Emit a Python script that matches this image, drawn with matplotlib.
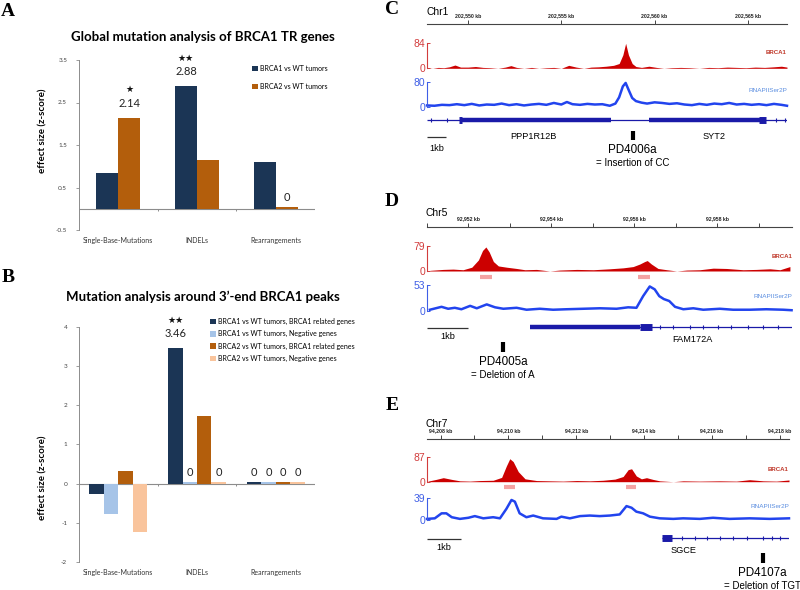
import numpy as np
import matplotlib.pyplot as plt

plt.rcParams['font.family'] = ['Liberation Sans', 'DejaVu Sans']

W, H = 800, 590

# ---- bar chart data (A, B) ----
categories = ['Single-Base-Mutations', 'INDELs', 'Rearrangements']

a_names = ['BRCA1 vs WT tumors', 'BRCA2 vs WT tumors']
a_brca1 = [0.85, 2.88, 1.10]
a_brca2 = [2.14, 1.15, 0.05]
a_ticks = [-0.5, 0.5, 1.5, 2.5, 3.5]
# (series, category, label, stars)
a_notes = [(1, 0, '2.14', '★'), (0, 1, '2.88', '★★'), (1, 2, '0', '')]

b_names = ['BRCA1 vs WT tumors, BRCA1 related genes', 'BRCA1 vs WT tumors, Negative genes',
           'BRCA2 vs WT tumors, BRCA1 related genes', 'BRCA2 vs WT tumors, Negative genes']
b_brca1_rel = [-0.28, 3.46, 0.05]
b_brca1_neg = [-0.79, 0.05, 0.05]
b_brca2_rel = [0.31, 1.74, 0.05]
b_brca2_neg = [-1.23, 0.05, 0.05]
b_ticks = [-2, -1, 0, 1, 2, 3, 4]
b_notes = [(0, 1, '3.46', '★★'), (1, 1, '0', ''), (3, 1, '0', ''),
           (0, 2, '0', ''), (1, 2, '0', ''), (2, 2, '0', ''), (3, 2, '0', '')]

navy, lblue, orange, peach = '#1b3555', '#a6c4e8', '#b35e0c', '#f9c49c'

# ---- locus C (chr1) ----
c_lo, c_hi = 202547.8, 202567.1
c_ticks = [202550, 202555, 202560, 202565]
c_tick_labels = ['202,550 kb', '202,555 kb', '202,560 kb', '202,565 kb']
c_brca_pos = [202547.8, 202548.1, 202548.4, 202548.7, 202549.0, 202549.3, 202549.6, 202550.0,
              202550.4, 202550.8, 202551.2, 202551.6, 202552.0, 202552.3, 202552.6, 202553.0,
              202553.4, 202553.8, 202554.2, 202554.6, 202555.0, 202555.4, 202555.8, 202556.2,
              202556.6, 202557.0, 202557.4, 202557.8, 202558.1, 202558.3, 202558.45, 202558.6,
              202558.8, 202559.0, 202559.3, 202559.7, 202560.1, 202560.5, 202560.9, 202561.4,
              202561.9, 202562.4, 202562.9, 202563.4, 202563.9, 202564.4, 202564.9, 202565.4,
              202565.9, 202566.4, 202566.8, 202567.1]
c_brca_val = [2, 0, 3, 2, 5, 11, 4, 4, 6, 3, 2, 0, 4, 9, 3, 0, 3, 0, 2, 3, 0, 10, 4, 0,
              4, 5, 7, 10, 16, 45, 84, 45, 16, 6, 3, 7, 3, 0, 2, 3, 2, 0, 3, 2, 4, 3, 2, 4,
              3, 5, 7, 4]
c_rnap_pos = [202547.8, 202548.2, 202548.6, 202549.0, 202549.4, 202549.8, 202550.2, 202550.6,
              202551.0, 202551.4, 202551.8, 202552.2, 202552.6, 202553.0, 202553.4, 202553.8,
              202554.2, 202554.6, 202555.0, 202555.3, 202555.6, 202556.0, 202556.4, 202556.8,
              202557.2, 202557.6, 202557.9, 202558.1, 202558.3, 202558.45, 202558.6, 202558.8,
              202559.0, 202559.3, 202559.6, 202560.0, 202560.4, 202560.8, 202561.2, 202561.6,
              202562.0, 202562.4, 202562.8, 202563.2, 202563.6, 202564.0, 202564.4, 202564.8,
              202565.2, 202565.6, 202566.0, 202566.4, 202566.8, 202567.1]
c_rnap_val = [4, 3, 6, 5, 8, 5, 9, 4, 7, 6, 10, 5, 8, 4, 7, 9, 6, 12, 7, 15, 8, 6, 9, 7,
              8, 3, 10, 30, 65, 76, 55, 28, 18, 13, 10, 14, 12, 9, 11, 7, 5, 9, 6, 10, 8, 12,
              7, 9, 6, 8, 5, 9, 6, 3]
c_peaks = [(202558.24, 202558.78)]
c_gene_span = (202547.8, 202567.1)
c_exons = [(202549.57, 202557.66), (202559.69, 202565.9)]
c_boxes = [(202549.5, 202549.7), (202565.6, 202565.95)]
c_marks = [202548.0, 202548.85, 202566.5, 202567.0]
c_genes = ['PPP1R12B', 'SYT2']
c_gene_x = [202553.5, 202563.2]
c_mut = 202558.83

# ---- locus D (chr5) ----
d_lo, d_hi = 92951.0, 92959.8
d_ticks = [92951, 92952, 92953, 92954, 92955, 92956, 92957, 92958, 92959]
d_tick_labels = ['', '92,952 kb', '', '92,954 kb', '', '92,956 kb', '', '92,958 kb', '']
d_brca_pos = [92951.07, 92951.39, 92951.63, 92951.87, 92952.08, 92952.24, 92952.34, 92952.42,
              92952.50, 92952.60, 92952.72, 92952.92, 92953.16, 92953.36, 92953.64, 92953.96,
              92954.20, 92954.61, 92955.01, 92955.41, 92955.73, 92955.97, 92956.13, 92956.25,
              92956.31, 92956.41, 92956.57, 92956.78, 92957.02, 92957.26, 92957.58, 92957.90,
              92958.22, 92958.62, 92958.94, 92959.27, 92959.51, 92959.75]
d_brca_val = [2, 5, 6, 4, 12, 35, 65, 76, 60, 30, 16, 12, 8, 4, 5, 0, 3, 5, 4, 7, 10, 14,
              22, 30, 33, 22, 8, 4, 0, 3, 4, 9, 8, 4, 5, 7, 4, 14]
d_rnap_pos = [92951.07, 92951.35, 92951.51, 92951.67, 92951.83, 92952.04, 92952.20, 92952.44,
              92952.64, 92952.84, 92953.16, 92953.40, 92953.72, 92954.04, 92954.37, 92954.77,
              92955.17, 92955.57, 92955.85, 92956.05, 92956.21, 92956.37, 92956.49, 92956.60,
              92956.71, 92956.84, 92956.98, 92957.18, 92957.42, 92957.66, 92958.06, 92958.38,
              92958.78, 92959.18, 92959.59, 92959.79]
d_rnap_val = [2, 8, 4, 6, 3, 10, 5, 13, 7, 4, 6, 2, 4, 2, 3, 4, 5, 4, 7, 6, 30, 50, 44, 30,
              24, 20, 8, 3, 5, 2, 4, 2, 2, 3, 2, 1]
d_peaks = [(92952.28, 92952.57), (92956.08, 92956.37)]
d_gene_span = (92953.48, 92959.8)
d_exons = [(92953.48, 92956.13)]
d_boxes = [(92956.13, 92956.42)]
d_marks = [92956.61, 92956.93, 92957.34, 92957.66, 92958.02, 92958.34, 92958.74, 92959.10, 92959.47]
d_genes = ['FAM172A']
d_gene_x = [92957.39]
d_mut = 92952.83

# ---- locus E (chr7) ----
e_lo, e_hi = 94207.6, 94218.27
e_ticks = [94208, 94209, 94210, 94211, 94212, 94213, 94214, 94215, 94216, 94217, 94218]
e_tick_labels = ['94,208 kb', '', '94,210 kb', '', '94,212 kb', '', '94,214 kb', '',
                 '94,216 kb', '', '94,218 kb']
e_brca_pos = [94207.63, 94207.87, 94208.08, 94208.33, 94208.57, 94208.87, 94209.16, 94209.55,
              94209.80, 94209.94, 94210.04, 94210.14, 94210.29, 94210.49, 94210.83, 94211.22,
              94211.61, 94212.01, 94212.40, 94212.79, 94213.14, 94213.38, 94213.53, 94213.63,
              94213.77, 94213.92, 94214.07, 94214.26, 94214.46, 94214.86, 94215.15, 94215.64,
              94216.23, 94216.72, 94217.11, 94217.51, 94217.90, 94218.27]
e_brca_val = [2, 8, 14, 8, 3, 2, 4, 5, 15, 55, 80, 70, 35, 10, 4, 3, 2, 4, 3, 5, 9, 18,
              42, 45, 20, 10, 14, 8, 3, 0, 3, 2, 3, 2, 7, 3, 2, 6]
e_rnap_pos = [94207.60, 94207.83, 94208.03, 94208.17, 94208.33, 94208.57, 94208.82, 94209.01,
              94209.26, 94209.55, 94209.75, 94209.94, 94210.09, 94210.19, 94210.33, 94210.53,
              94210.73, 94211.02, 94211.42, 94211.56, 94211.81, 94212.11, 94212.40, 94212.69,
              94212.99, 94213.28, 94213.48, 94213.63, 94213.77, 94213.97, 94214.17, 94214.46,
              94214.86, 94215.15, 94215.64, 94216.03, 94216.52, 94217.11, 94217.70, 94218.27]
e_rnap_val = [2, 3, 12, 12, 5, 2, 4, 7, 3, 5, 3, 20, 36, 33, 12, 5, 8, 3, 2, 6, 3, 7, 8, 7,
              8, 10, 25, 22, 15, 12, 6, 3, 2, 3, 2, 4, 2, 3, 2, 3]
e_peaks = [(94209.87, 94210.19), (94213.46, 94213.76)]
e_gene_span = (94214.52, 94218.27)
e_exons = []
e_boxes = [(94214.52, 94214.81)]
e_marks = [94215.11, 94215.50, 94215.84, 94216.24, 94216.63, 94217.02, 94217.51, 94217.76, 94218.0]
e_genes = ['SGCE']
e_gene_x = [94215.15]
e_mut = 94217.49

fig = plt.figure(figsize=(8, 5.9), dpi=100)


def rect(l, t, w, h):
    return [l / W, 1 - (t + h) / H, w / W, h / H]


def ftext(x, y, s, **kw):
    kw.setdefault('va', 'center')
    fig.text(x / W, 1 - y / H, s, **kw)


BAR_FONT = ['Lato', 'DejaVu Sans']


def bar_panel(top, height, ylim, ticks, series, names, colors, notes, leg_xy, leg_sp):
    ax = fig.add_axes(rect(79, top, 236, height))
    n = len(series)
    w = 0.28 if n == 2 else 0.184
    x = np.arange(len(categories))
    handles = []
    offs = []
    for i, (vals, col) in enumerate(zip(series, colors)):
        off = (i - (n - 1) / 2) * w
        offs.append(off)
        handles.append(ax.bar(x + off, vals, w, color=col, zorder=2))
    for s, c, lab, stars in notes:
        v = series[s][c]
        big = lab != '0'
        ax.annotate(lab, (x[c] + offs[s], v), xytext=(0, 6.5 if big else 2.5),
                    textcoords='offset points', ha='center', va='bottom',
                    fontsize=8, family=BAR_FONT, color='#222222')
        if stars:
            ax.annotate(stars, (x[c] + offs[s], v), xytext=(0, 17),
                        textcoords='offset points', ha='center', va='bottom',
                        fontsize=6.5, family='DejaVu Sans', color='#111111')
    ax.set_xlim(-0.5, 2.5)
    ax.set_ylim(*ylim)
    for s in ['top', 'right', 'bottom']:
        ax.spines[s].set_visible(False)
    ax.spines['left'].set_color('#8c8c8c')
    ax.spines['left'].set_linewidth(0.7)
    ax.axhline(0, color='#8c8c8c', lw=0.8, zorder=1)
    tick_len = (ylim[1] - ylim[0]) * 0.012
    ax.vlines([0.5, 1.5], -tick_len, 0, color='#8c8c8c', lw=0.7)
    ax.set_yticks(ticks)
    ax.set_yticklabels([str(t) for t in ticks], family=BAR_FONT, fontsize=4.6, color='#444444')
    ax.tick_params(axis='y', length=2.5, width=0.6, color='#8c8c8c', pad=6)
    ax.set_xticks(x)
    ax.set_xticklabels(categories, family=BAR_FONT, fontsize=5, color='#333333')
    ax.tick_params(axis='x', length=0, pad=5)
    ax.patch.set_visible(False)
    fig.legend(handles, names, loc='upper left', bbox_to_anchor=(leg_xy[0] / W, 1 - leg_xy[1] / H),
               frameon=False, borderpad=0, borderaxespad=0, handlelength=0.8, handleheight=0.8,
               handletextpad=0.35, labelspacing=leg_sp, prop={'family': BAR_FONT, 'size': 5})
    return ax


# panel letters
for letter, lx, ly in [('A', 8, 11), ('B', 8, 278), ('C', 392, 10), ('D', 392, 202), ('E', 392, 405)]:
    ftext(lx, ly, letter, ha='center', fontsize=14, fontweight='bold', family='Liberation Serif')

# ---- A ----
ftext(203, 37, 'Global mutation analysis of BRCA1 TR genes', ha='center', fontsize=9.5,
      fontweight='bold', family=BAR_FONT)
bar_panel(60, 170, (-0.5, 3.5), a_ticks, [a_brca1, a_brca2], a_names, [navy, orange],
          a_notes, (252, 65), 1.6)
ftext(43, 131, 'effect size (z-score)', ha='center', rotation=90, fontsize=7,
      fontweight='bold', family=BAR_FONT)

# ---- B ----
ftext(203, 297, 'Mutation analysis around 3\u2019-end BRCA1 peaks', ha='center', fontsize=9.5,
      fontweight='bold', family=BAR_FONT)
bar_panel(327.3, 234.3, (-2, 4), b_ticks, [b_brca1_rel, b_brca1_neg, b_brca2_rel, b_brca2_neg],
          b_names, [navy, lblue, orange, peach], b_notes, (210, 318), 0.75)
ftext(43, 478, 'effect size (z-score)', ha='center', rotation=90, fontsize=7,
      fontweight='bold', family=BAR_FONT)

RED = '#cc0000'
BLUE = '#2244ee'
GENE = '#1a1aa8'


def locus(lo, hi, left, width, L, chrom, ticks, tick_labels,
          brca_pos, brca_val, brca_max, rnap_pos, rnap_val, rnap_max,
          peaks, span, exons, boxes, marks, genes, gene_x, mut, mut_name, mut_desc):
    ftext(L['chr'][0], L['chr'][1], chrom, ha='left', fontsize=7.4)

    # coordinate ruler
    r = fig.add_axes(rect(left, L['ruler'] - 10, width, 10))
    r.set_xlim(lo, hi)
    for s in ['bottom', 'left', 'right']:
        r.spines[s].set_visible(False)
    r.spines['top'].set_color('#444444')
    r.spines['top'].set_linewidth(0.8)
    r.xaxis.tick_top()
    r.set_xticks(ticks)
    r.set_xticklabels(tick_labels, fontsize=3.7, fontweight='bold', color='#222222')
    r.tick_params(axis='x', direction='out', length=3, width=0.7, pad=1, color='#444444')
    r.set_yticks([])
    r.patch.set_visible(False)

    def track(rows, top_val, tick_col):
        ax = fig.add_axes(rect(left, rows[0], width, rows[1] - rows[0]))
        ax.set_xlim(lo, hi)
        ax.set_ylim(0, top_val)
        for s in ['top', 'right', 'bottom']:
            ax.spines[s].set_visible(False)
        ax.spines['left'].set_color(tick_col)
        ax.spines['left'].set_linewidth(0.8)
        ax.set_xticks([])
        ax.set_yticks([0, top_val])
        ax.set_yticklabels(['0', str(top_val)])
        ax.tick_params(axis='y', direction='in', length=2.5, width=0.7, colors=tick_col,
                       labelsize=7.5, pad=1.5)
        ax.patch.set_visible(False)
        return ax

    b = track(L['brca'], brca_max, '#d23c3c')
    b.axhline(0, color='#dddddd', lw=0.6, zorder=0)
    b.fill_between(brca_pos, 0, brca_val, color=RED, lw=0)
    ftext(left + width, L['brca_lab'], 'BRCA1', ha='right', fontsize=4.4, fontweight='bold',
          color='#c0392b')

    p = track(L['rnap'], rnap_max, '#3f5ee6')
    p.plot(rnap_pos, rnap_val, color=BLUE, lw=1.8, clip_on=False)
    ftext(left + width, L['rnap_lab'], 'RNAPIISer2P', ha='right', fontsize=4.6, color='#5a8de0')

    # overlay in kb / pixel-row coordinates
    o0, o1 = L['over']
    ov = fig.add_axes(rect(left, o0, width, o1 - o0))
    ov.set_xlim(lo, hi)
    ov.set_ylim(o1, o0)
    ov.axis('off')
    for s, e in peaks:
        ov.hlines(L['peak'], s, e, color='#f4a3a3', lw=3)
    gy = L['gene']
    ov.hlines(gy, span[0], span[1], color=GENE, lw=0.9)
    for s, e in exons:
        ov.hlines(gy, s, e, color=GENE, lw=3.2)
    for s, e in boxes:
        ov.hlines(gy, s, e, color=GENE, lw=5)
    ov.plot(marks, [gy] * len(marks), marker='|', ms=3, mew=0.8, ls='none', color=GENE)
    for g, gx in zip(genes, gene_x):
        ov.text(gx, L['gene_lab'], g, ha='center', va='center', fontsize=6.6)
    ov.hlines(L['scale'], lo, lo + 1, color='#333333', lw=0.9, clip_on=False)
    ov.text(lo + 0.5, L['scale_lab'], '1kb', ha='center', va='center', fontsize=6.6)
    ov.vlines(mut, L['mark'][0], L['mark'][1], color='black', lw=3)
    ov.text(mut, L['mut'], mut_name, ha='center', va='center', fontsize=8.4, clip_on=False)
    ov.text(mut, L['desc'], mut_desc, ha='center', va='center', fontsize=7, clip_on=False)


locus(c_lo, c_hi, 427, 360,
      dict(chr=(427, 12), ruler=34, brca=(43.3, 68.3), brca_lab=52, rnap=(81.7, 106.7), rnap_lab=90,
           over=(110, 175), peak=72.7, gene=120, gene_lab=137, scale=137, scale_lab=149,
           mark=(131, 140), mut=150, desc=163),
      'Chr1', c_ticks, c_tick_labels, c_brca_pos, c_brca_val, 84, c_rnap_pos, c_rnap_val, 80,
      c_peaks, c_gene_span, c_exons, c_boxes, c_marks, c_genes, c_gene_x, c_mut,
      'PD4006a', '= Insertion of CC')

locus(d_lo, d_hi, 427, 365,
      dict(chr=(425, 213), ruler=236.7, brca=(246, 271), brca_lab=256.7, rnap=(285, 310.7),
           rnap_lab=296.7, over=(273, 385), peak=276.7, gene=327, gene_lab=340, scale=328,
           scale_lab=337, mark=(342, 352), mut=362, desc=375),
      'Chr5', d_ticks, d_tick_labels, d_brca_pos, d_brca_val, 79, d_rnap_pos, d_rnap_val, 53,
      d_peaks, d_gene_span, d_exons, d_boxes, d_marks, d_genes, d_gene_x, d_mut,
      'PD4005a', '= Deletion of A')

locus(e_lo, e_hi, 427, 362,
      dict(chr=(425, 424), ruler=449, brca=(456.7, 481.7), brca_lab=469.3, rnap=(498.3, 520),
           rnap_lab=506.7, over=(484, 590), peak=486.7, gene=538.3, gene_lab=550.7, scale=539,
           scale_lab=547.3, mark=(552.7, 562.7), mut=572.7, desc=586),
      'Chr7', e_ticks, e_tick_labels, e_brca_pos, e_brca_val, 87, e_rnap_pos, e_rnap_val, 39,
      e_peaks, e_gene_span, e_exons, e_boxes, e_marks, e_genes, e_gene_x, e_mut,
      'PD4107a', '= Deletion of TGT')

fig.savefig('out.png', dpi=100)
